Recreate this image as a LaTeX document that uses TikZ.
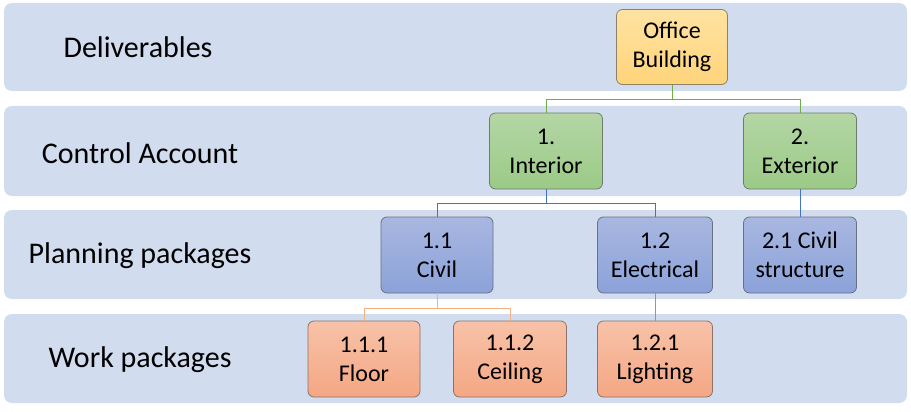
\documentclass[tikz,border=0pt]{standalone}
\usepackage{fontspec}
\setmainfont{Carlito}
\usepackage{xcolor}

\definecolor{bandblue}{HTML}{D1DCEE}
\definecolor{linegreen}{HTML}{70AD47}
\definecolor{lineblue}{HTML}{4472C4}
\definecolor{lineorange}{HTML}{ED7D31}
\definecolor{lightorange}{HTML}{F4B183}
\definecolor{delivtop}{HTML}{FFE3A2}
\definecolor{delivbot}{HTML}{FFD47A}
\definecolor{accttop}{HTML}{B4D6A5}
\definecolor{acctbot}{HTML}{9BCA87}
\definecolor{plantop}{HTML}{A9B7E1}
\definecolor{planbot}{HTML}{8BA2D9}
\definecolor{worktop}{HTML}{F8C2A8}
\definecolor{workbot}{HTML}{F4A784}

\tikzset{
  band/.style={fill=bandblue, rounded corners=8pt},
  level/.style={font=\fontsize{30}{36}\selectfont},
  wbs/.style={rounded corners=6pt, minimum width=112pt, minimum height=76pt,
    inner sep=0pt, align=center, font=\fontsize{24}{29}\selectfont, line width=0.8pt},
  deliv/.style={wbs, top color=delivtop, bottom color=delivbot, draw=gray!60!delivbot!80!black},
  acct/.style={wbs, top color=accttop, bottom color=acctbot, draw=gray!60!acctbot!80!black},
  plan/.style={wbs, top color=plantop, bottom color=planbot, draw=gray!60!planbot!80!black},
  work/.style={wbs, top color=worktop, bottom color=workbot, draw=gray!60!workbot!80!black},
}

\begin{document}
\begin{tikzpicture}[x=1pt, y=-1pt]
\useasboundingbox (0,0) rectangle (911,412);

% bands
\fill[band] (4,3) rectangle (907,91);
\fill[band] (4,106) rectangle (907,196);
\fill[band] (4,210) rectangle (907,299);
\fill[band] (4,314) rectangle (907,403);

\node[level] (l1) at (138,47) {Deliverables};
\node[level] (l2) at (140,153) {Control Account};
\node[level] (l3) at (140,256) {Planning packages};
\node[level] (l4) at (140,360) {Work packages};

% boxes
\node[deliv, minimum width=111pt, minimum height=75pt] (ob) at (672,47) {Office\\Building};

\node[acct, minimum width=113pt] (int) at (546,151) {1.\\Interior};
\node[acct, minimum width=113pt] (ext) at (800,151) {2.\\Exterior};

\node[plan] (civ) at (437,255) {1.1\\Civil};
\node[plan, minimum width=115pt] (ele) at (655,255) {1.2\\Electrical};
\node[plan, minimum width=113pt] (cst) at (800,255) {2.1 Civil\\structure};

\node[work] (flo) at (364,359) {1.1.1\\Floor};
\node[work, minimum width=113pt] (cei) at (510,359) {1.1.2\\Ceiling};
\node[work, minimum width=115pt] (lig) at (655,359) {1.2.1\\Lighting};

% connectors
\draw[linegreen, line width=1pt] (ob.south) -- (ob.south |- 0,100) -| (int.north);
\draw[linegreen, line width=1pt] (ob.south |- 0,100) -| (ext.north);

\draw[lineblue, line width=1pt] (int.south) -- (int.south |- 0,203) -| (civ.north);
\draw[lineblue, line width=1pt] (int.south |- 0,203) -| (ele.north);
\draw[lineblue, line width=1pt] (ext.south) -- (cst.north);

\draw[lightorange, line width=1pt] (civ.south) -- (civ.south |- 0,308) -| (flo.north);
\draw[lightorange, line width=1pt] (civ.south |- 0,308) -| (cei.north);
\draw[lineorange, line width=1pt] (ele.south) -- (lig.north);
\end{tikzpicture}
\end{document}
